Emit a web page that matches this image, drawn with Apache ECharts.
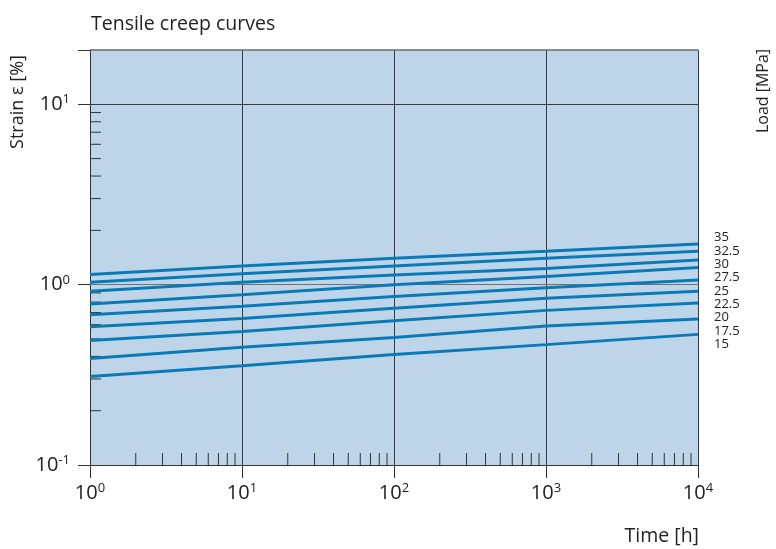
<!DOCTYPE html>
<html>
<head>
<meta charset="utf-8">
<script src="https://cdn.jsdelivr.net/npm/echarts@6/dist/echarts.min.js"></script>
<style>html,body{margin:0;padding:0;background:#fff;}#c{width:776px;height:549px;}</style>
</head>
<body>
<div id="c"></div>
<script>
// ---- data ----
const times = [1, 10, 100, 1000, 10000];
const loads = ['35', '32.5', '30', '27.5', '25', '22.5', '20', '17.5', '15'];
const s35   = [1.14, 1.27, 1.40, 1.53, 1.68];
const s32_5 = [1.03, 1.15, 1.27, 1.40, 1.53];
const s30   = [0.92, 1.03, 1.13, 1.23, 1.37];
const s27_5 = [0.78, 0.88, 1.00, 1.11, 1.245];
const s25   = [0.68, 0.76, 0.86, 0.96, 1.06];
const s22_5 = [0.585, 0.65, 0.74, 0.84, 0.92];
const s20   = [0.49, 0.55, 0.63, 0.72, 0.79];
const s17_5 = [0.39, 0.45, 0.51, 0.59, 0.645];
const s15   = [0.31, 0.355, 0.41, 0.465, 0.53];
const minorTicksX = [2,3,4,5,6,7,8,9, 20,30,40,50,60,70,80,90, 200,300,400,500,600,700,800,900, 2000,3000,4000,5000,6000,7000,8000,9000];
const minorTicksY = [0.2,0.3,0.4,0.5,0.6,0.7,0.8,0.9, 2,3,4,5,6,7,8,9];
const gridLinesY = [1, 10];
const loadLabels = [15, 17.5, 20, 22.5, 25, 27.5, 30, 32.5, 35];

const allSeries = [s35, s32_5, s30, s27_5, s25, s22_5, s20, s17_5, s15];
const FONT = 'Open Sans';
const X_MIN = 1, X_MAX = 10000, Y_MIN = 0.1, Y_MAX = 20;

function powLabel(v) {
  const l = Math.log10(v);
  const e = Math.round(l);
  if (Math.abs(l - e) > 1e-6) return '';
  return '{b|10}{s|' + e + '}';
}
const rich = {
  b: { fontSize: 20, lineHeight: 22, fontFamily: FONT, color: '#222' },
  s: { fontSize: 13, lineHeight: 13, verticalAlign: 'top', fontFamily: FONT, color: '#222' }
};

const lineSeries = allSeries.map((arr, i) => ({
  name: loads[i],
  type: 'line',
  xAxisIndex: 0, yAxisIndex: 0,
  data: times.map((t, j) => [t, arr[j]]),
  showSymbol: false,
  symbol: 'none',
  lineStyle: { color: '#0a7ab6', width: 3 },
  z: 5,
  silent: true
}));

// horizontal grid lines at decades (and top frame), through the y scale
lineSeries[0].markLine = {
  silent: true, symbol: 'none', label: { show: false }, z: 2,
  animation: false,
  data: gridLinesY.map(v => ({
    yAxis: v,
    lineStyle: { color: v === 1 ? '#727272' : '#3a3a3a', width: 1, type: 'solid' }
  })).concat([{ yAxis: Y_MAX, lineStyle: { color: '#6a6a6a', width: 1.5, type: 'solid' } }])
};

const option = {
  animation: false,
  backgroundColor: '#ffffff',
  title: [
    { text: 'Tensile creep curves', left: 86, top: 9,
      textStyle: { fontFamily: FONT, fontSize: 19.5, fontWeight: 'normal', color: '#222' } },
    { text: 'Time [h]', right: 72, top: 521,
      textStyle: { fontFamily: FONT, fontSize: 19.5, fontWeight: 'normal', color: '#222' } }
  ],
  graphic: [
    { type: 'text', x: 18, y: 102, rotation: Math.PI / 2,
      style: { text: 'Strain ε [%]', fontFamily: FONT, fontSize: 18, fill: '#222', align: 'center', verticalAlign: 'middle' } },
    { type: 'text', x: 763, y: 91, rotation: Math.PI / 2,
      style: { text: 'Load [MPa]', fontFamily: FONT, fontSize: 16, fill: '#222', align: 'center', verticalAlign: 'middle' } }
  ],
  grid: {
    left: 90, top: 50, right: 78, bottom: 84,
    show: true, backgroundColor: '#bed5e9', borderWidth: 0
  },
  xAxis: [{
    type: 'log', logBase: 10, min: X_MIN, max: X_MAX,
    axisLine: { show: true, onZero: false, lineStyle: { color: '#333', width: 1 } },
    axisTick: { show: true, inside: false, length: 13, lineStyle: { color: '#333', width: 1 } },
    axisLabel: { formatter: powLabel, rich: rich, margin: 17, color: '#222' },
    splitLine: { show: true, lineStyle: { color: '#3a3a3a', width: 1 } },
    minorTick: { show: false }
  }],
  yAxis: [{
    type: 'log', logBase: 10, min: Y_MIN, max: Y_MAX,
    axisLine: { show: true, onZero: false, lineStyle: { color: '#333', width: 1 } },
    axisTick: { show: true, inside: false, length: 12, lineStyle: { color: '#333', width: 1 } },
    axisLabel: { formatter: powLabel, rich: rich, margin: 20, color: '#222' },
    splitLine: { show: false }
  }, {
    type: 'value', position: 'right', min: -7.5, max: 70, interval: 2.5,
    axisLine: { show: false, onZero: false }, axisTick: { show: false }, splitLine: { show: false },
    axisLabel: {
      margin: 16, fontFamily: FONT, fontSize: 13, color: '#222',
      formatter: v => (loadLabels.indexOf(v) >= 0 ? String(v) : '')
    }
  }],
  series: lineSeries.concat([
    {
      type: 'custom', xAxisIndex: 0, yAxisIndex: 0, silent: true, z: 3,
      data: minorTicksX.map(v => [v, Y_MIN]),
      renderItem: function (params, api) {
        const p = api.coord([api.value(0), api.value(1)]);
        return { type: 'line', shape: { x1: p[0], y1: p[1], x2: p[0], y2: p[1] - 12 },
                 style: { stroke: '#333', lineWidth: 1 } };
      }
    },
    {
      type: 'custom', xAxisIndex: 0, yAxisIndex: 0, silent: true, z: 3,
      data: minorTicksY.map(v => [X_MIN, v]),
      renderItem: function (params, api) {
        const p = api.coord([api.value(0), api.value(1)]);
        return { type: 'line', shape: { x1: p[0], y1: p[1], x2: p[0] + 11, y2: p[1] },
                 style: { stroke: '#333', lineWidth: 1 } };
      }
    }
  ])
};

const chart = echarts.init(document.getElementById('c'), null, { renderer: 'canvas' });
chart.setOption(option);
</script>
</body>
</html>
